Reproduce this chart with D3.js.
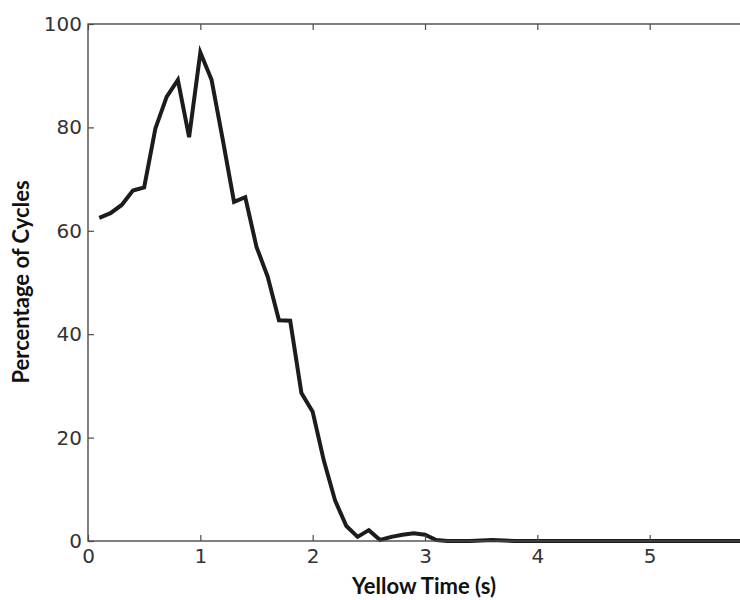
<!DOCTYPE html>
<html>
<head>
<meta charset="utf-8">
<script src="https://cdn.jsdelivr.net/npm/d3@7"></script>
<style>
  html, body { margin: 0; padding: 0; background: #fff; }
  svg { display: block; }
</style>
</head>
<body>
<svg id="chart" width="740" height="600"></svg>
<script>
const yellowTime = [0.1,0.2,0.3,0.4,0.5,0.6,0.7,0.8,0.9,1.0,
  1.1,1.2,1.3,1.4,1.5,1.6,1.7,1.8,1.9,2.0,
  2.1,2.2,2.3,2.4,2.5,2.6,2.7,2.8,2.9,3.0,
  3.1,3.2,3.3,3.4,3.5,3.6,3.7,3.8,3.9,4.0,
  4.1,4.2,4.3,4.4,4.5,4.6,4.7,4.8,4.9,5.0,
  5.1,5.2,5.3,5.4,5.5,5.6,5.7,5.8,5.9,6.0];
const percentCycles = [62.5,63.4,65.0,67.8,68.4,79.8,85.9,89.2,78.1,94.5,
  89.2,77.6,65.6,66.5,56.9,51.1,42.7,42.6,28.6,25.0,
  15.5,7.8,2.9,0.8,2.1,0.2,0.8,1.2,1.5,1.2,
  0.2,0.0,0.0,0.0,0.1,0.2,0.1,0.0,0.0,0.0,
  0.0,0.0,0.0,0.0,0.0,0.0,0.0,0.0,0.0,0.0,
  0.0,0.0,0.0,0.0,0.0,0.0,0.0,0.0,0.0,0.0];
const xTicks = [0,1,2,3,4,5];
const yTicks = [0,20,40,60,80,100];
const xLabel = "Yellow Time (s)";
const yLabel = "Percentage of Cycles";

const svg = d3.select("#chart");
const mLeft = 88, mTop = 24, mRight = 762, mBottom = 541;

const x = d3.scaleLinear().domain([0, 6]).range([mLeft, mRight]);
const y = d3.scaleLinear().domain([0, 100]).range([mBottom, mTop]);

const tickFont = "'DejaVu Sans', sans-serif";
const tickColor = "#333";
const spineColor = "#4a4a4a";

// data line
const line = d3.line().x((d, i) => x(yellowTime[i])).y(d => y(d));
svg.append("path")
  .datum(percentCycles)
  .attr("d", line)
  .attr("fill", "none")
  .attr("stroke", "#1c1c1c")
  .attr("stroke-width", 4)
  .attr("stroke-linejoin", "miter");

// frame
svg.append("rect")
  .attr("x", mLeft).attr("y", mTop)
  .attr("width", mRight - mLeft).attr("height", mBottom - mTop)
  .attr("fill", "none")
  .attr("stroke", spineColor)
  .attr("stroke-width", 1.4);

function style(g) {
  g.select(".domain").remove();
  g.selectAll(".tick line").attr("stroke", spineColor).attr("stroke-width", 1.2);
  g.selectAll(".tick text").attr("fill", tickColor)
    .style("font-family", tickFont).style("font-size", "20px");
}

svg.append("g").attr("transform", `translate(0,${mBottom})`)
  .call(d3.axisBottom(x).tickValues(xTicks).tickFormat(d3.format("d")).tickSize(-6).tickPadding(8))
  .call(style);
svg.append("g").attr("transform", `translate(0,${mTop})`)
  .call(d3.axisTop(x).tickValues(xTicks).tickFormat("").tickSize(-6))
  .call(style);
svg.append("g").attr("transform", `translate(${mLeft},0)`)
  .call(d3.axisLeft(y).tickValues(yTicks).tickFormat(d3.format("d")).tickSize(-6).tickPadding(6))
  .call(style);

// axis titles
svg.append("text")
  .attr("x", 424).attr("y", 594)
  .attr("text-anchor", "middle")
  .style("font-family", "Lato, 'Open Sans', sans-serif")
  .style("font-weight", "bold")
  .style("font-size", "22px")
  .attr("fill", "#111")
  .text(xLabel);
svg.append("text")
  .attr("transform", "translate(29,282) rotate(-90)")
  .attr("text-anchor", "middle")
  .style("font-family", "Lato, 'Open Sans', sans-serif")
  .style("font-weight", "bold")
  .style("font-size", "22px")
  .attr("fill", "#111")
  .text(yLabel);
</script>
</body>
</html>
